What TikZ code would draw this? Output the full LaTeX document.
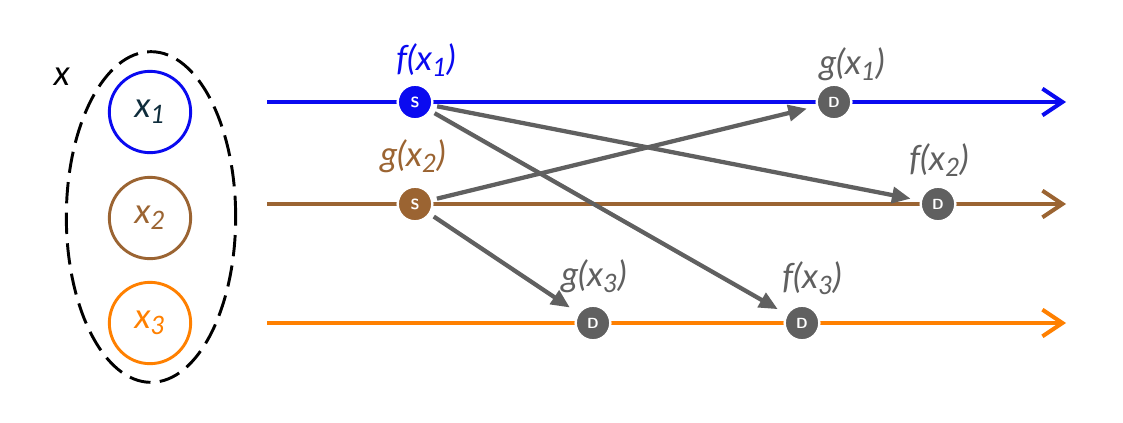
\documentclass[tikz,border=0pt]{standalone}
\usepackage{fontspec}
\setmainfont{Lato}
\usetikzlibrary{arrows.meta,shapes.geometric}
\definecolor{cblue}{RGB}{10,10,240}
\definecolor{cbrown}{RGB}{155,100,50}
\definecolor{corange}{RGB}{255,128,0}
\definecolor{cgray}{RGB}{96,96,96}
\definecolor{cdark}{RGB}{15,45,60}
\newcommand{\sbs}[1]{\raisebox{-0.35ex}{\fontsize{19}{19}\selectfont #1}}
\tikzset{
  lbl/.style={font=\fontsize{26}{26}\selectfont\itshape, inner sep=0pt},
  set/.style={draw, line width=2.2pt, circle, minimum size=61pt, inner sep=0pt, font=\fontsize{26}{26}\selectfont\itshape},
  track/.style={line width=3pt, -{Straight Barb[length=15pt,width=20pt]}},
  dot/.style={circle, draw=white, line width=1.8pt, minimum size=26pt, inner sep=0pt, text=white, font=\sffamily\bfseries\fontsize{11}{11}\selectfont},
  msg/.style={draw=cgray, line width=3.2pt, -{Triangle[length=14pt,width=12pt]}, shorten >=7pt, shorten <=3pt},
}
\begin{document}
\begin{tikzpicture}[x=0.75pt,y=-0.75pt]
\useasboundingbox (0,0) rectangle (1123,422);
% set
\node[draw, ellipse, dash pattern=on 16pt off 7pt, line width=2.2pt, minimum width=127pt, minimum height=248pt, inner sep=0pt] (X) at (151,217) {};
\node[lbl, text=black] (xl) at (62,77) {x};
\node[set, draw=cblue, text=cdark] (c1) at (150,112) {x\sbs{1}};
\node[set, draw=cbrown, text=cbrown] (c2) at (150,218) {x\sbs{2}};
\node[set, draw=corange, text=corange] (c3) at (150,323) {x\sbs{3}};
% tracks
\coordinate (a1) at (267,102); \coordinate (b1) at (1066,102);
\coordinate (a2) at (267,204); \coordinate (b2) at (1066,204);
\coordinate (a3) at (267,323); \coordinate (b3) at (1066,323);
\draw[track, cblue] (a1) -- (b1);
\draw[track, cbrown] (a2) -- (b2);
\draw[track, corange] (a3) -- (b3);
% dots
\node[dot, fill=cblue] (s1) at (415,102) {S};
\node[dot, fill=cbrown] (s2) at (415,204) {S};
\node[dot, fill=cgray] (d1) at (834,102) {D};
\node[dot, fill=cgray] (d2) at (938,204) {D};
\node[dot, fill=cgray] (d3) at (593,323) {D};
\node[dot, fill=cgray] (d4) at (802,323) {D};
% messages
\draw[msg] (s2) -- (d1);
\draw[msg] (s1) -- (d2);
\draw[msg] (s1) -- (d4);
\draw[msg] (s2) -- (d3);
% labels
\node[lbl, text=cblue] (l1) at (426,60) {f(x\sbs{1})};
\node[lbl, text=cbrown] (l2) at (413,156) {g(x\sbs{2})};
\node[lbl, text=cgray] (l3) at (852,64) {g(x\sbs{1})};
\node[lbl, text=cgray] (l4) at (939,160) {f(x\sbs{2})};
\node[lbl, text=cgray] (l5) at (594,276) {g(x\sbs{3})};
\node[lbl, text=cgray] (l6) at (812,278) {f(x\sbs{3})};
\end{tikzpicture}
\end{document}
